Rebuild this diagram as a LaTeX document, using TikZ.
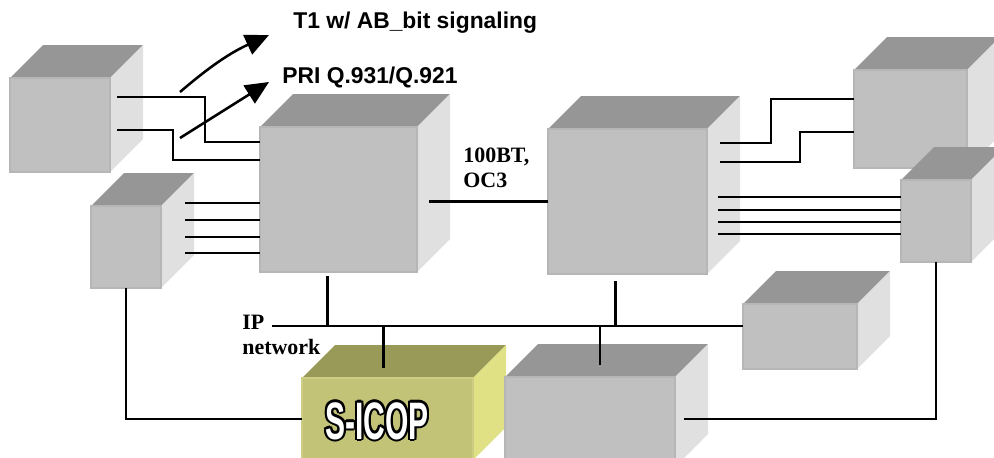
\documentclass[tikz,border=0pt]{standalone}
\usepackage{fontspec}
\setmainfont{Liberation Serif}
\newfontfamily\labelsans{Liberation Sans}
\usetikzlibrary{arrows.meta, calc}

\definecolor{boxfront}{HTML}{C0C0C0}
\definecolor{boxtop}{HTML}{969696}
\definecolor{boxside}{HTML}{E0E0E0}
\definecolor{boxedge}{HTML}{B6B6B6}
\definecolor{icopfront}{HTML}{C3C378}
\definecolor{icoptop}{HTML}{999958}
\definecolor{icopside}{HTML}{E0E085}
\definecolor{icopedge}{HTML}{CDCD84}

\tikzset{
  face/.style={rectangle, inner sep=0pt, outer sep=0pt, line width=0.8pt},
  wire/.style={line width=1.45pt, draw=black},
  sigarrow/.style={-{Triangle[length=0.47cm, width=0.42cm]}, line width=1.45pt},
  sanslabel/.style={font=\labelsans\bfseries\fontsize{13}{15}\selectfont,
                    inner sep=0pt, anchor=base west},
  seriflabel/.style={font=\bfseries\fontsize{12.5}{13.7}\selectfont,
                     inner sep=0pt, anchor=base west, align=left},
  icoplabel/.style={font=\labelsans\bfseries\fontsize{30}{32}\selectfont,
                    inner sep=0pt, anchor=base},
}

% 3D box: colour prefix, name, x, y (front top left), width, height
\newcommand{\devbox}[6]{%
  \fill[#1top] (#3,#4) -- ++(33,-33) -- ++(#5,0) -- ++(-33,33) -- cycle;
  \fill[#1side] (#3+#5,#4) -- ++(33,-33) -- ++(0,#6) -- ++(-33,33) -- cycle;
  \node[face, fill=#1front, draw=#1edge, minimum width=#5*0.02cm,
        minimum height=#6*0.02cm, anchor=north west] (#2) at (#3,#4) {};
}

\begin{document}
\begin{tikzpicture}[x=0.02cm, y=-0.02cm]
  \useasboundingbox (0,0) rectangle (994,457);
  \clip (0,0) rectangle (994,457);

  % boxes
  \devbox{box}{leftTop}{10}{78}{100}{94}
  \devbox{box}{leftSmall}{91}{206}{70}{82}
  \devbox{box}{gwLeft}{260}{127}{157}{145}
  \devbox{box}{gwRight}{548}{129}{159}{145}
  \devbox{box}{rightTop}{854}{70}{113}{98}
  \devbox{box}{rightSmall}{901}{180}{70}{82}
  \devbox{box}{ipHost}{743}{304}{114}{65}
  \devbox{icop}{sicop}{302}{378}{171}{82}
  \devbox{box}{mediaBox}{505}{377}{170}{90}

  % labels
  \node[sanslabel] (t1) at (293,28) {T1 w/ AB\_bit signaling};
  \node[sanslabel] (pri) at (282,83) {PRI Q.931/Q.921};
  \node[seriflabel] (link) at (463,187) {100BT,\\OC3};
  \node[seriflabel] (ipnet) at (242,354) {IP\\network};

  \foreach \a in {0,30,...,330}
    \node[icoplabel, text=black] at ($(377,439)+(\a:2.1)$)
      {\scalebox{0.57}[1]{S-ICOP}};
  \node[icoplabel, text=white] (icoptext) at (377,439)
    {\scalebox{0.57}[1]{S-ICOP}};

  % signalling arrows
  \coordinate (t1from) at (180,92);
  \coordinate (t1to) at (269,35);
  \coordinate (prifrom) at (180,138);
  \coordinate (prito) at (269,82);
  \draw[sigarrow] (t1from) to[bend left=8] (t1to);
  \draw[sigarrow] (prifrom) -- (prito);

  % trunks into the left gateway
  \draw[wire] ([shift={(7,19)}]leftTop.north east) -- ++(88,0)
    |- ([shift={(0,15)}]gwLeft.north west);
  \draw[wire] ([shift={(7,52)}]leftTop.north east) -- ++(56,0)
    |- ([shift={(0,33)}]gwLeft.north west);
  \foreach \dy in {-3,14,31,47} {
    \coordinate (s) at ([shift={(24,\dy)}]leftSmall.north east);
    \draw[wire] (s) -- (s -| gwLeft.west);
  }

  % gateway to gateway
  \draw[wire] (gwRight.west) -- ++(-119,0);

  % trunks out of the right gateway
  \draw[wire] ([shift={(13,14)}]gwRight.north east) -- ++(51,0)
    |- ([shift={(0,29)}]rightTop.north west);
  \draw[wire] ([shift={(13,33)}]gwRight.north east) -- ++(80,0)
    |- ([shift={(0,62)}]rightTop.north west);
  \foreach \dy in {68,81,93,105} {
    \coordinate (s) at ([shift={(11,\dy)}]gwRight.north east);
    \draw[wire] (s) -- (s -| rightSmall.west);
  }

  % IP network
  \coordinate (ipL) at (272,326);
  \draw[wire] (ipL) -- (ipL -| ipHost.west);
  \coordinate (g1) at ([shift={(-11,4)}]gwLeft.south);
  \draw[wire] (g1) -- (g1 |- ipL);
  \coordinate (g2) at ([shift={(-12,7)}]gwRight.south);
  \draw[wire] (g2) -- (g2 |- ipL);
  \coordinate (s1) at ([shift={(-4,-10)}]sicop.north);
  \draw[wire] (s1) -- (s1 |- ipL);
  \coordinate (m1) at ([shift={(10,-12)}]mediaBox.north);
  \draw[wire] (m1) -- (m1 |- ipL);

  % side links
  \draw[wire] (leftSmall.south) |- (sicop.west);
  \draw[wire] ([shift={(9,42)}]mediaBox.north east) -| (rightSmall.south);
\end{tikzpicture}
\end{document}
